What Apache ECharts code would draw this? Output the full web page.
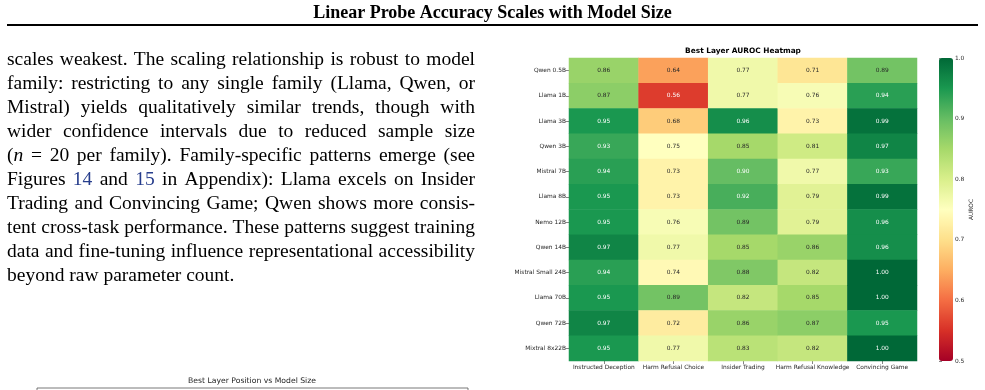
<!DOCTYPE html>
<html>
<head>
<meta charset="utf-8">
<script src="https://cdn.jsdelivr.net/npm/echarts@6/dist/echarts.min.js"></script>
<style>
  html, body { margin: 0; padding: 0; background: #fff; }
  #chart { width: 985px; height: 390px; }
</style>
</head>
<body>
<div id="chart"></div>
<script>
// rows of the heatmap, top to bottom
const models = ['Qwen 0.5B', 'Llama 1B', 'Llama 3B', 'Qwen 3B', 'Mistral 7B', 'Llama 8B',
  'Nemo 12B', 'Qwen 14B', 'Mistral Small 24B', 'Llama 70B', 'Qwen 72B', 'Mixtral 8x22B']
const tasks = ['Instructed Deception', 'Harm Refusal Choice', 'Insider Trading',
  'Harm Refusal Knowledge', 'Convincing Game']

// best layer AUROC, one array per task (same order as models)
const instructedDeception = [0.86, 0.87, 0.95, 0.93, 0.94, 0.95, 0.95, 0.97, 0.94, 0.95, 0.97, 0.95]
const harmRefusalChoice = [0.64, 0.56, 0.68, 0.75, 0.73, 0.73, 0.76, 0.77, 0.74, 0.89, 0.72, 0.77]
const insiderTrading = [0.77, 0.77, 0.96, 0.85, 0.90, 0.92, 0.89, 0.85, 0.88, 0.82, 0.86, 0.83]
const harmRefusalKnowledge = [0.71, 0.76, 0.73, 0.81, 0.77, 0.79, 0.79, 0.86, 0.82, 0.85, 0.87, 0.82]
const convincingGame = [0.89, 0.94, 0.99, 0.97, 0.93, 0.99, 0.96, 0.96, 1.00, 1.00, 0.95, 1.00]

const colorMin = 0.5
const colorMax = 1.0
const colorTickStep = 0.1

// RdYlGn
const rdYlGn = ['#a50026', '#d73027', '#f46d43', '#fdae61', '#fee08b', '#ffffbf',
  '#d9ef8b', '#a6d96a', '#66bd63', '#1a9850', '#006837']

const pageTitle = 'Linear Probe Accuracy Scales with Model Size'
const heatmapTitle = 'Best Layer AUROC Heatmap'
const lowerTitle = 'Best Layer Position vs Model Size'

// body text; _x_ = italic, {x} = link colour
const paragraph = [
  'scales weakest. The scaling relationship is robust to model',
  'family: restricting to any single family (Llama, Qwen, or',
  'Mistral) yields qualitatively similar trends, though with',
  'wider confidence intervals due to reduced sample size',
  '(_n_ = 20 per family). Family-specific patterns emerge (see',
  'Figures {14} and {15} in Appendix): Llama excels on Insider',
  'Trading and Convincing Game; Qwen shows more consis-',
  'tent cross-task performance. These patterns suggest training',
  'data and fine-tuning influence representational accessibility',
  'beyond raw parameter count.',
]

const columns = [instructedDeception, harmRefusalChoice, insiderTrading, harmRefusalKnowledge, convincingGame]
const cells = []
columns.forEach((col, c) => {
  col.forEach((v, r) => {
    cells.push({
      value: [c, r, v],
      label: { color: (v >= 0.9 || v <= 0.6) ? '#ffffff' : '#262626' },
    })
  })
})

// lay out the justified paragraph with measured word widths
const textFont = '"Liberation Serif", "Times New Roman", serif'
const textSize = 19.5
const textLeft = 7
const textWidth = 468
const firstLineY = 60
const lineStep = 24
const linkColor = '#263d8c'

const measureCtx = document.createElement('canvas').getContext('2d')
function fontFor(style) {
  return (style === 'i' ? 'italic ' : '') + textSize + 'px ' + textFont
}
function measure(str, style) {
  measureCtx.font = fontFor(style)
  return measureCtx.measureText(str).width
}
function parseWord(word) {
  return word.split(/(_[^_]+_|\{[^}]+\})/).filter(s => s.length).map(s => {
    if (s[0] === '_') return { text: s.slice(1, -1), style: 'i' }
    if (s[0] === '{') return { text: s.slice(1, -1), style: 'link' }
    return { text: s, style: 'r' }
  })
}

const textElements = []
paragraph.forEach((line, i) => {
  const words = line.split(' ').map(parseWord)
  const widths = words.map(segs => segs.reduce((s, g) => s + measure(g.text, g.style), 0))
  const total = widths.reduce((a, b) => a + b, 0)
  const isLast = i === paragraph.length - 1
  const gap = isLast ? measure(' ', 'r') : (textWidth - total) / (words.length - 1)
  let x = textLeft
  const y = firstLineY + i * lineStep
  words.forEach((segs, w) => {
    let sx = x
    segs.forEach(g => {
      textElements.push({
        type: 'text',
        x: sx,
        y: y,
        style: {
          text: g.text,
          font: fontFor(g.style),
          fill: g.style === 'link' ? linkColor : '#000',
          verticalAlign: 'middle',
        },
      })
      sx += measure(g.text, g.style)
    })
    x += widths[w] + gap
  })
})

const chart = echarts.init(document.getElementById('chart'))
const tickFont = 'DejaVu Sans'

chart.setOption({
  animation: false,
  backgroundColor: '#fff',
  title: [
    {
      text: pageTitle, left: 'center', top: 4, padding: 0,
      textStyle: { fontFamily: textFont, fontWeight: 'bold', fontSize: 18, color: '#000' },
    },
    {
      text: heatmapTitle, left: 743, textAlign: 'center', top: 48, padding: 0,
      textStyle: { fontFamily: tickFont, fontWeight: 'bold', fontSize: 7.4, color: '#000' },
    },
    {
      text: lowerTitle, left: 252, textAlign: 'center', top: 377.5, padding: 0,
      textStyle: { fontFamily: tickFont, fontWeight: 'normal', fontSize: 7.7, color: '#262626' },
    },
  ],
  grid: [
    { left: 569, top: 58, width: 348, height: 303 },
    { left: 939, top: 58, width: 14, height: 303 },
    { left: 37, top: 388, width: 431, height: 100, show: true, borderColor: '#555', borderWidth: 0.8 },
  ],
  xAxis: [
    {
      type: 'category', data: tasks, gridIndex: 0, position: 'bottom',
      axisLine: { show: false },
      axisTick: { show: true, alignWithLabel: true, length: 3, lineStyle: { color: '#333', width: 0.6 } },
      axisLabel: { fontFamily: tickFont, fontSize: 5.9, color: '#262626', margin: 3.5, interval: 0 },
      splitLine: { show: false },
    },
    { type: 'value', gridIndex: 1, show: false },
    { type: 'value', gridIndex: 2, show: false },
  ],
  yAxis: [
    {
      type: 'category', data: models, gridIndex: 0, inverse: true,
      axisLine: { show: false },
      axisTick: { show: true, alignWithLabel: true, length: 3, lineStyle: { color: '#333', width: 0.6 } },
      axisLabel: { fontFamily: tickFont, fontSize: 5.9, color: '#262626', margin: 3, interval: 0 },
      splitLine: { show: false },
    },
    {
      type: 'value', gridIndex: 1, position: 'right',
      min: colorMin, max: colorMax, interval: colorTickStep,
      axisLine: { show: false },
      axisTick: { show: true, length: 3, lineStyle: { color: '#333', width: 0.6 } },
      axisLabel: {
        fontFamily: tickFont, fontSize: 5.9, color: '#262626', margin: 2,
        formatter: v => v.toFixed(1),
      },
      splitLine: { show: false },
      name: 'AUROC', nameLocation: 'middle', nameGap: 15, nameRotate: 90,
      nameTextStyle: { fontFamily: tickFont, fontSize: 5.9, color: '#262626' },
    },
    { type: 'value', gridIndex: 2, show: false },
  ],
  visualMap: {
    type: 'continuous',
    min: colorMin,
    max: colorMax,
    seriesIndex: 0,
    calculable: false,
    hoverLink: false,
    orient: 'vertical',
    left: 939,
    top: 58,
    itemWidth: 14,
    itemHeight: 303,
    padding: 0,
    inRange: { color: rdYlGn },
  },
  series: [
    {
      type: 'heatmap',
      xAxisIndex: 0,
      yAxisIndex: 0,
      data: cells,
      label: {
        show: true,
        fontFamily: tickFont,
        fontSize: 5.9,
        formatter: p => p.value[2].toFixed(2),
      },
      itemStyle: { borderWidth: 0 },
      emphasis: { disabled: true },
    },
  ],
  graphic: [
    {
      type: 'line',
      shape: { x1: 7, y1: 25, x2: 978, y2: 25 },
      style: { stroke: '#000', lineWidth: 2 },
    },
    ...textElements,
  ],
})
</script>
</body>
</html>
